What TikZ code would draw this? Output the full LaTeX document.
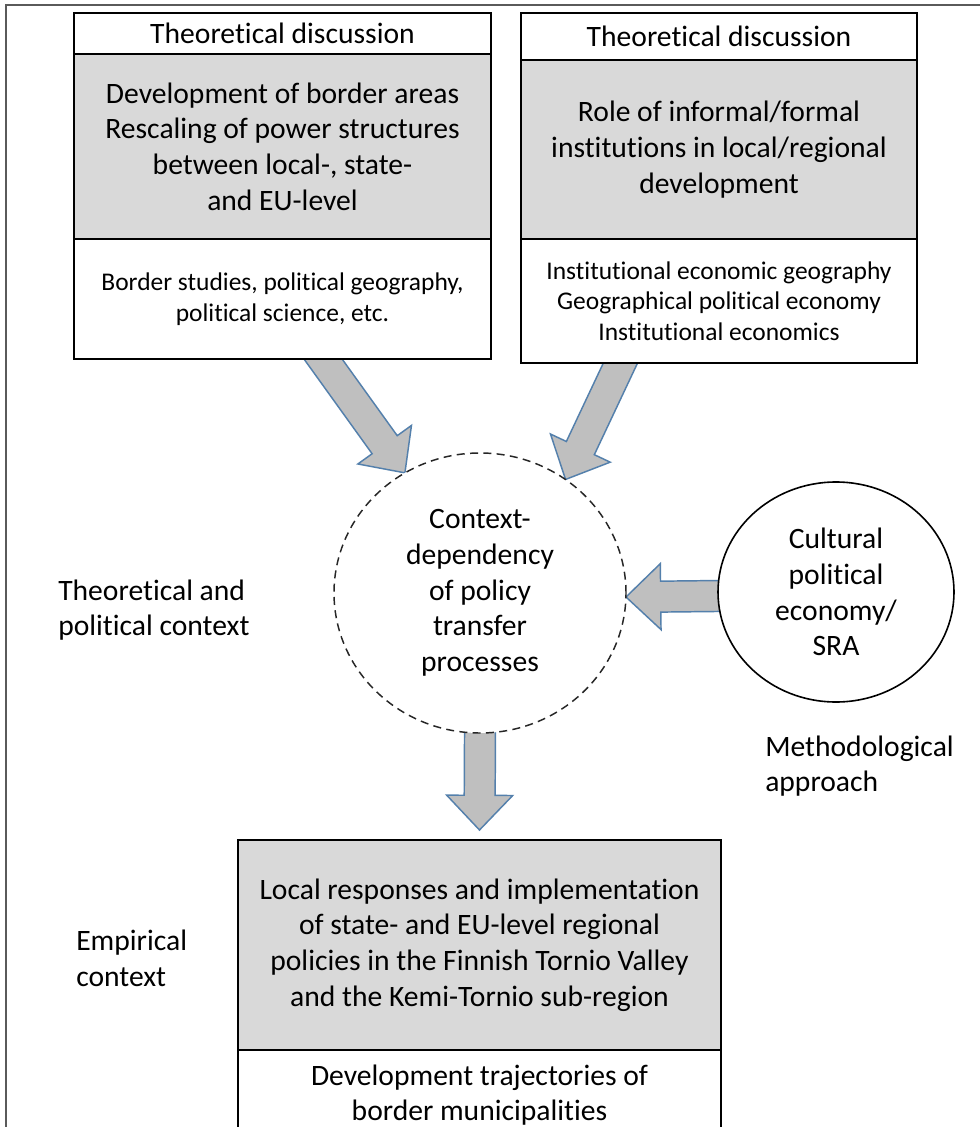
\documentclass[tikz,border=0pt]{standalone}
\usepackage{fontspec}
\setmainfont{Carlito}[Ligatures={NoCommon}]
\usetikzlibrary{shapes.geometric,calc}

\definecolor{boxgray}{RGB}{217,217,217}
\definecolor{arrowfill}{RGB}{191,191,191}
\definecolor{arrowedge}{RGB}{84,128,172}
\definecolor{framegray}{RGB}{90,90,90}

\pgfdeclarelayer{back}
\pgfsetlayers{back,main}

\newcommand\bigtxt{\fontsize{22.2}{26.8}\selectfont}
\newcommand\smalltxt{\fontsize{19.1}{23}\selectfont}

% block arrow from #1 to #2 (tip at #2); the tail runs a little back into the source shape
\newcommand\blockarrow[2]{%
  \path[blockarr] let \p1=(#1), \p2=(#2),
    \n1={atan2(\y2-\y1,\x2-\x1)}, \n2={veclen(\x2-\x1,\y2-\y1)} in
    [shift={(\p1)}, rotate=\n1]
    (-20pt,-11.6pt) -- (\n2-26pt,-11.6pt) -- (\n2-26pt,-24.75pt) -- (\n2,0pt)
    -- (\n2-26pt,24.75pt) -- (\n2-26pt,11.6pt) -- (-20pt,11.6pt) -- cycle;}

\tikzset{
  sect/.style={draw=black, line width=1.4pt, inner sep=0pt, outer sep=0pt,
    align=center, anchor=north west},
  graysect/.style={sect, fill=boxgray, font=\bigtxt},
  whitesect/.style={sect, fill=white},
  blockarr/.style={draw=arrowedge, fill=arrowfill, line width=1.1pt, line join=miter},
  label/.style={anchor=west, align=left, inner sep=0pt, font=\bigtxt},
}

\begin{document}
\begin{tikzpicture}[x=0.75pt, y=-0.75pt]
\clip (0,0) rectangle (980,1127);

% outer frame (top and left edges)
\draw[framegray, line width=1.1pt] (6,1140) -- (6,5) -- (990,5);

% left theory box
\node[whitesect, font=\bigtxt, minimum width=312.75pt, minimum height=30.75pt] (tlh) at (74,13)
  {Theoretical discussion};
\node[graysect, minimum width=312.75pt, minimum height=138.75pt] (tlg) at (74,54)
  {Development of border areas\\Rescaling of power structures\\between local-, state-\\and EU-level};
\node[whitesect, font=\smalltxt, minimum width=312.75pt, minimum height=90pt] (tll) at (74,239)
  {Border studies, political geography,\\political science, etc.};

% right theory box
\node[whitesect, font=\bigtxt, minimum width=297pt, minimum height=35.25pt] (trh) at (521,13)
  {Theoretical discussion};
\node[graysect, minimum width=297pt, minimum height=134.25pt] (trg) at (521,60)
  {Role of informal/formal\\institutions in local/regional\\development};
\node[whitesect, font=\smalltxt, minimum width=297pt, minimum height=93pt] (trl) at (521,239)
  {Institutional economic geography\\Geographical political economy\\Institutional economics};

% central dashed circle
\node[ellipse, draw=black!85, dash pattern=on 6pt off 4pt, line width=1.1pt, fill=white,
  minimum width=219pt, minimum height=210pt, inner sep=0pt, outer sep=0pt,
  align=center, font=\bigtxt] (ctx) at (480,593)
  {Context-\\dependency\\of policy\\transfer\\processes};

% methodology circle
\node[ellipse, draw=black, line width=1.2pt, fill=white,
  minimum width=177pt, minimum height=165pt, inner sep=0pt, outer sep=0pt,
  align=center, font=\bigtxt] (cpe) at (836,592)
  {Cultural\\political\\economy/\\SRA};

% empirical box
\node[graysect, minimum width=362.25pt, minimum height=157.5pt] (bg) at (238,840)
  {Local responses and implementation\\of state- and EU-level regional\\policies in the Finnish Tornio Valley\\and the Kemi-Tornio sub-region};
\node[whitesect, font=\bigtxt, minimum width=362.25pt, minimum height=67.5pt] (bl) at (238,1050)
  {Development trajectories of\\border municipalities};

% side labels
\node[label] (lthe) at (58,610) {Theoretical and\\political context};
\node[label] (lmet) at (765,766) {Methodological\\approach};
\node[label] (lemp) at (76,958) {Empirical\\context};

% arrow anchor points
\coordinate (a1) at ([xshift=30.4pt]tll.south);
\coordinate (a2) at ([xshift=-73.9pt]trl.south);
\coordinate (a3) at ([yshift=-3pt]cpe.west);
\coordinate (a3t) at ([yshift=-3pt]ctx.east);
\coordinate (a4t) at ([yshift=7.5pt]bg.north);

\begin{pgfonlayer}{back}
  \fill[white] (0,0) rectangle (980,1127);
  \blockarrow{a1}{ctx.122.5}
  \blockarrow{a2}{ctx.53.5}
  \blockarrow{a3}{a3t}
  \blockarrow{ctx.south}{a4t}
\end{pgfonlayer}
\end{tikzpicture}
\end{document}
